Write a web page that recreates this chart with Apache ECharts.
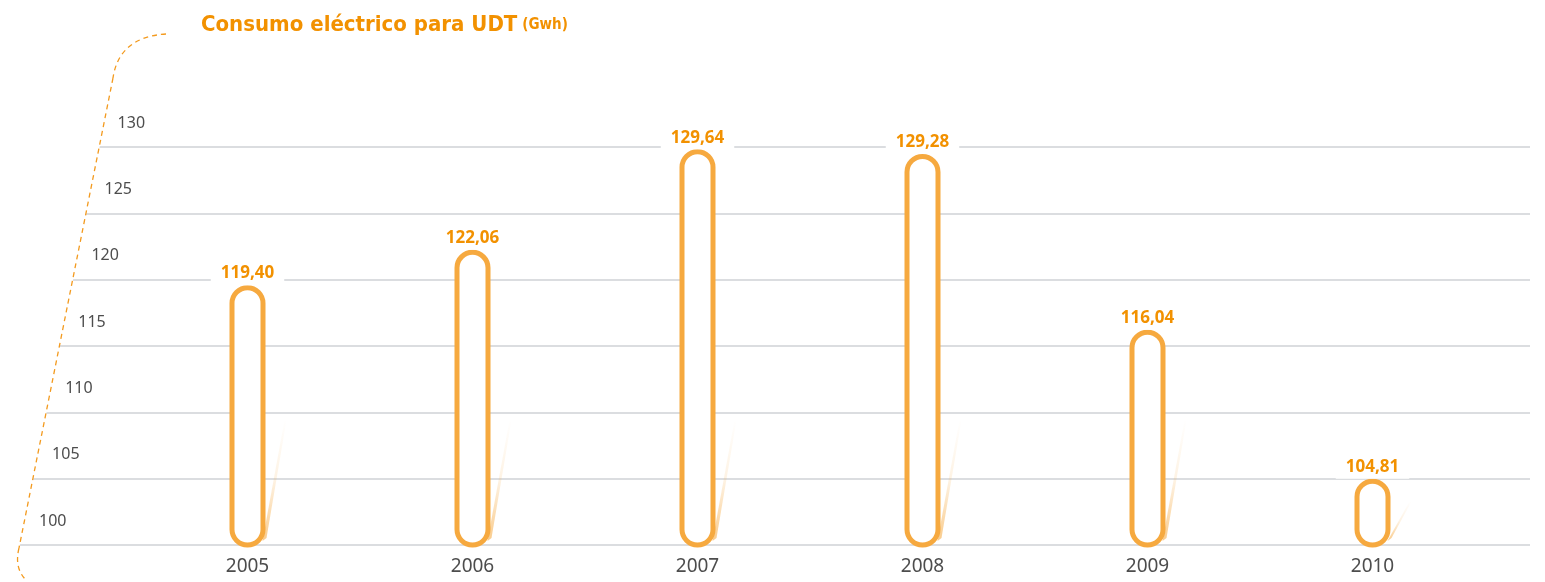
<!DOCTYPE html>
<html>
<head>
<meta charset="utf-8">
<script src="https://cdn.jsdelivr.net/npm/echarts@6/dist/echarts.min.js"></script>
<style>html,body{margin:0;padding:0;background:#fff}#c{width:1545px;height:582px}</style>
</head>
<body>
<div id="c"></div>
<script>
const categories = ['2005', '2006', '2007', '2008', '2009', '2010'];
const values = [119.40, 122.06, 129.64, 129.28, 116.04, 104.81];
const valueLabels = ['119,40', '122,06', '129,64', '129,28', '116,04', '104,81'];
const yMin = 100, yMax = 130, yStep = 5;

const ORANGE = '#F6A93F';
const ORANGE_TXT = '#F29100';
const FONT = '"Noto Sans", "Open Sans", sans-serif';
const TITLE_FONT = '"Liberation Sans Narrow", "DejaVu Sans Condensed", sans-serif';

// per-tick label indentation follows the slanted dashed frame
const rich = {};
for (let v = yMin; v <= yMax; v += yStep) {
  rich['t' + v] = { padding: [0, 0, 0, (v - yMin) / yStep * 13.1], fontSize: 16, color: '#4d4d4d', fontFamily: FONT };
}

const dashStyle = { stroke: '#F39A1E', lineWidth: 1.3, lineDash: [5, 4], fill: 'none' };

const chart = echarts.init(document.getElementById('c'), null, { renderer: 'canvas' });
chart.setOption({
  animation: false,
  backgroundColor: '#fff',
  title: {
    text: '{a|Consumo eléctrico para UDT} {b|(Gwh)}',
    left: 196, top: 9,
    textStyle: {
      rich: {
        a: { fontFamily: TITLE_FONT, fontWeight: 'bold', fontSize: 22, color: ORANGE_TXT },
        b: { fontFamily: TITLE_FONT, fontWeight: 'bold', fontSize: 15, color: ORANGE_TXT }
      }
    }
  },
  grid: [
    { left: 135, right: 60, top: 147, bottom: 37 },
    { left: 15, right: 15, top: 147, bottom: 37 }
  ],
  xAxis: [
    {
      gridIndex: 0, type: 'category', data: categories, boundaryGap: true,
      axisLine: { show: false }, axisTick: { show: false },
      axisLabel: { color: '#4d4d4d', fontSize: 19, margin: 12, fontFamily: FONT }
    },
    { gridIndex: 1, type: 'value', show: false, min: 0, max: 1 }
  ],
  yAxis: [
    { gridIndex: 0, type: 'value', min: yMin, max: yMax, interval: yStep, show: false },
    {
      gridIndex: 1, type: 'value', min: yMin, max: yMax, interval: yStep,
      axisLine: { show: false }, axisTick: { show: false },
      splitLine: { show: true, lineStyle: { color: '#cfd2d6', width: 1.5 } },
      axisLabel: {
        inside: true, margin: 24, verticalAlign: 'bottom', padding: [0, 0, 16, 0],
        formatter: v => '{t' + v + '|' + v + '}', rich: rich
      }
    }
  ],
  graphic: [
    {
      type: 'polygon', z: 50,
      shape: { points: [[0, 130], [103, 130], [17, 560], [0, 560]] },
      style: { fill: '#fff' }
    },
    {
      type: 'bezierCurve', z: 51,
      shape: { x1: 166, y1: 34, cpx1: 119, cpy1: 37, x2: 113, y2: 78 },
      style: dashStyle
    },
    {
      type: 'line', z: 51,
      shape: { x1: 113, y1: 78, x2: 19, y2: 548 },
      style: dashStyle
    },
    {
      type: 'bezierCurve', z: 51,
      shape: { x1: 19, y1: 548, cpx1: 14, cpy1: 568, x2: 26, y2: 580 },
      style: dashStyle
    }
  ],
  series: [
    {
      type: 'custom', xAxisIndex: 0, yAxisIndex: 0,
      data: values.map((v, i) => [i, v]),
      renderItem: function (params, api) {
        const i = api.value(0), v = api.value(1);
        const top = api.coord([i, v]);
        const base = api.coord([i, yMin]);
        const bw = 31;
        const h = base[1] - top[1];
        const bx = top[0] + bw / 2 + 2.5;
        const th = Math.min(125, h * 0.68);
        return {
          type: 'group',
          children: [
            {
              type: 'polygon',
              shape: { points: [[bx - 3, base[1] - 4], [bx + 1, base[1] - 7], [bx + 21, base[1] - th], [bx + 19, base[1] - th]] },
              style: {
                fill: {
                  type: 'linear', x: 0, y: 1, x2: 0, y2: 0,
                  colorStops: [
                    { offset: 0, color: 'rgba(246,169,63,0.6)' },
                    { offset: 0.5, color: 'rgba(246,169,63,0.15)' },
                    { offset: 1, color: 'rgba(246,169,63,0)' }
                  ]
                }
              }
            },
            {
              type: 'rect',
              shape: { x: top[0] - bw / 2, y: top[1], width: bw, height: h, r: bw / 2 },
              style: { fill: '#fff', stroke: ORANGE, lineWidth: 5 },
              textContent: {
                style: {
                  text: valueLabels[params.dataIndex],
                  fill: ORANGE_TXT, fontSize: 17, fontWeight: 'bold', fontFamily: FONT,
                  backgroundColor: '#fff', padding: [3, 10]
                }
              },
              textConfig: { position: 'top', distance: 0 }
            }
          ]
        };
      }
    }
  ]
});
</script>
</body>
</html>
